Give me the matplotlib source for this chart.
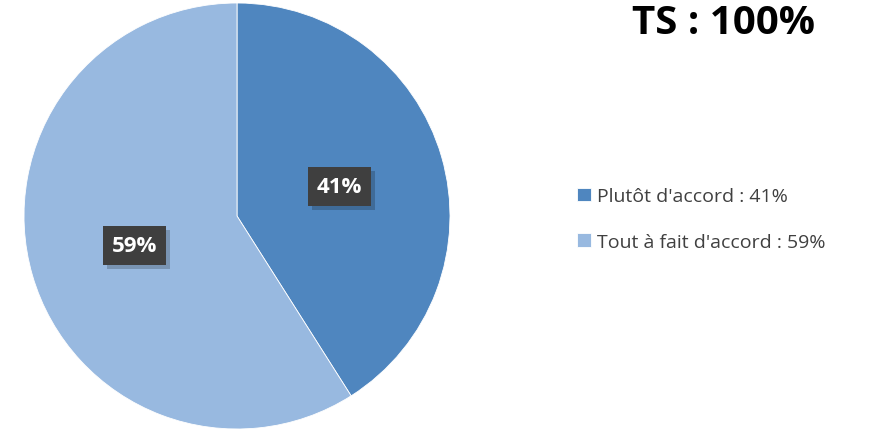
import matplotlib.pyplot as plt
import matplotlib.patheffects as pe

# data
categories = ["Plutôt d'accord", "Tout à fait d'accord"]
values = [41, 59]
colors = ['#4F86BF', '#98B9E0']
title = "TS : 100%"

plt.rcParams['font.family'] = ['Open Sans', 'DejaVu Sans']

fig = plt.figure(figsize=(8.7, 4.31), dpi=100)
ax = fig.add_axes([24 / 870, 1 / 431, 426 / 870, 426 / 431])

wedges, texts, autotexts = ax.pie(values, colors=colors, startangle=90, counterclock=False,
                                  autopct=lambda p: f'{round(p)}%', pctdistance=0.5,
                                  wedgeprops={'linewidth': 0.6, 'edgecolor': 'white'})
ax.set_xlim(-1, 1)
ax.set_ylim(-1, 1)
ax.set_aspect('equal')

for t in autotexts:
    t.set_color('white')
    t.set_fontsize(16)
    t.set_fontweight('bold')
    t.set_bbox(dict(boxstyle='square,pad=0.4', facecolor='#3f3f3f', edgecolor='none'))
    t.get_bbox_patch().set_path_effects([
        pe.withSimplePatchShadow(offset=(3, -3), shadow_rgbFace='black', alpha=0.2)])

legend_labels = [f"{c} : {v}%" for c, v in zip(categories, values)]
fig.legend(wedges, legend_labels, loc='center left', bbox_to_anchor=(560 / 870, 1 - 220 / 431),
           frameon=False, fontsize=14, handlelength=0.7, handleheight=0.7,
           handletextpad=0.3, labelspacing=1.4, labelcolor='#404040')

fig.text(724 / 870, 1 - 24 / 431, title, ha='center', va='center',
         fontsize=29, fontweight='bold', color='black')

fig.savefig('out.png', dpi=100)
